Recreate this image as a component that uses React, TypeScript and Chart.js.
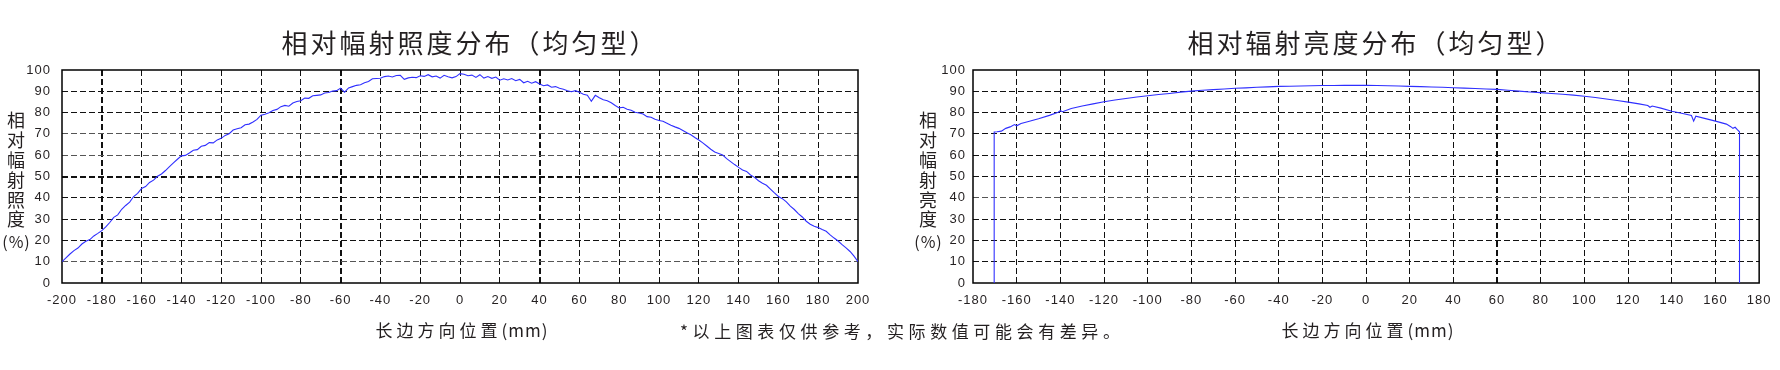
import React, { useEffect, useRef } from 'react';
import { Chart, registerables } from 'chart.js';

Chart.register(...registerables);

// ---------------- data ----------------
const irradianceTitle = '相对幅射照度分布（均匀型）';
const radianceTitle = '相对辐射亮度分布（均匀型）';
const irradianceYTitle = ['相', '对', '幅', '射', '照', '度'];
const radianceYTitle = ['相', '对', '幅', '射', '亮', '度'];
const yUnit = '(%)';
const xAxisTitleMain = '长边方向位置';
const xAxisTitleUnit = '(mm)';
const footnote = '*以上图表仅供参考，实际数值可能会有差异。';

const irradianceXTicks = [-200, -180, -160, -140, -120, -100, -80, -60, -40, -20, 0, 20, 40, 60, 80, 100, 120, 140, 160, 180, 200];
const radianceXTicks = [-180, -160, -140, -120, -100, -80, -60, -40, -20, 0, 20, 40, 60, 80, 100, 120, 140, 160, 180];
const yTicks = [0, 10, 20, 30, 40, 50, 60, 70, 80, 90, 100];

const irradiancePos = [
  -200, -198, -196, -194, -192, -190, -188, -186, -184, -182,
  -180, -178, -176, -174, -172, -170, -168, -166, -164, -162,
  -160, -158, -156, -154, -152, -150, -148, -146, -144, -142,
  -140, -138, -136, -134, -132, -130, -128, -126, -124, -122,
  -120, -118, -116, -114, -112, -110, -108, -106, -104, -102,
  -100, -98, -96, -94, -92, -90, -88, -86, -84, -82,
  -80, -78, -76, -74, -72, -70, -68, -66, -64, -62,
  -60, -58, -56, -54, -52, -50, -48, -46, -44, -42,
  -40, -38, -36, -34, -32, -30, -28, -26, -24, -22,
  -20, -18, -16, -14, -12, -10, -8, -6, -4, -2,
  0, 2, 4, 6, 8, 10, 12, 14, 16, 18,
  20, 22, 24, 26, 28, 30, 32, 34, 36, 38,
  40, 42, 44, 46, 48, 50, 52, 54, 56, 58,
  60, 62, 64, 66, 68, 70, 72, 74, 76, 78,
  80, 82, 84, 86, 88, 90, 92, 94, 96, 98,
  100, 102, 104, 106, 108, 110, 112, 114, 116, 118,
  120, 122, 124, 126, 128, 130, 132, 134, 136, 138,
  140, 142, 144, 146, 148, 150, 152, 154, 156, 158,
  160, 162, 164, 166, 168, 170, 172, 174, 176, 178,
  180, 182, 184, 186, 188, 190, 192, 194, 196, 198,
  200,
];
const irradianceVal = [
  10.0, 11.8, 13.6, 15.2, 16.4, 18.3, 19.6, 20.4, 22.1, 23.3,
  24.6, 26.3, 28.4, 30.8, 32.0, 34.6, 36.4, 38.0, 40.6, 42.1,
  44.4, 45.3, 47.2, 48.3, 50.1, 51.2, 52.8, 54.6, 56.4, 58.1,
  59.7, 59.9, 61.0, 62.3, 62.6, 64.2, 64.6, 65.9, 65.8, 67.2,
  67.9, 69.3, 70.1, 71.8, 72.4, 72.9, 74.3, 74.6, 75.6, 76.8,
  78.8, 79.2, 79.9, 81.0, 81.5, 82.8, 83.4, 83.0, 84.5, 85.2,
  85.6, 86.8, 86.7, 87.9, 88.1, 88.3, 89.2, 89.4, 90.1, 90.3,
  91.5, 89.6, 91.6, 92.2, 92.8, 93.1, 94.0, 94.6, 95.9, 96.0,
  96.1, 96.9, 97.2, 96.7, 97.4, 97.5, 95.6, 96.3, 96.6, 96.4,
  97.3, 97.0, 97.8, 96.8, 97.2, 96.2, 97.5, 96.8, 96.3, 96.9,
  98.3, 98.0, 97.3, 97.6, 96.5, 97.8, 96.2, 96.9, 96.1, 96.7,
  95.2, 95.9, 95.3, 96.0, 95.0, 95.6, 94.0, 94.7, 93.8, 94.5,
  93.4, 92.6, 93.0, 91.9, 92.2, 91.4, 91.0, 90.3, 89.8, 90.3,
  89.6, 88.6, 88.2, 85.3, 88.1, 87.0, 86.0, 85.6, 84.6, 83.3,
  82.2, 82.5, 81.6, 81.1, 80.2, 79.8, 79.3, 78.1, 77.8, 76.9,
  76.3, 75.9, 75.0, 74.1, 73.3, 72.6, 71.6, 70.5, 69.6, 68.3,
  67.1, 65.8, 64.3, 62.8, 61.5, 60.8, 60.1, 58.4, 57.0, 55.6,
  54.3, 53.1, 52.4, 50.7, 49.6, 48.0, 46.8, 45.9, 44.1, 42.3,
  40.6, 39.6, 38.1, 36.1, 34.5, 32.6, 31.0, 29.0, 27.6, 26.6,
  26.0, 25.1, 24.3, 22.6, 21.1, 19.7, 18.0, 16.5, 14.8, 12.6,
  10.0,
];

const radiancePos = [
  -170.3, -170.3, -169, -167, -165, -163, -161, -160, -158, -155,
  -150, -145, -141, -140, -139, -135, -130, -125, -120, -115,
  -110, -105, -100, -95, -90, -85, -80, -75, -70, -65,
  -60, -55, -50, -45, -40, -35, -30, -25, -20, -15,
  -10, -5, 0, 5, 10, 15, 20, 25, 30, 35,
  40, 45, 50, 55, 60, 65, 70, 75, 80, 85,
  90, 95, 100, 105, 110, 115, 120, 125, 129, 130,
  131, 135, 140, 145, 149, 150, 151, 155, 160, 165,
  167, 168, 169, 170, 171, 171,
];
const radianceVal = [
  0, 70.9, 71.0, 71.3, 72.6, 73.3, 74.4, 73.8, 74.9, 75.7,
  77.1, 78.7, 80.2, 80.9, 80.4, 81.9, 83.1, 84.1, 85.1, 85.9,
  86.6, 87.3, 87.9, 88.5, 89.0, 89.6, 90.1, 90.5, 90.8, 91.1,
  91.4, 91.6, 91.9, 92.1, 92.3, 92.4, 92.5, 92.6, 92.7, 92.7,
  92.8, 92.8, 92.8, 92.7, 92.6, 92.5, 92.3, 92.2, 92.0, 91.9,
  91.7, 91.5, 91.3, 91.1, 90.9, 90.5, 90.1, 89.7, 89.4, 89.0,
  88.6, 88.2, 87.7, 87.1, 86.4, 85.7, 84.9, 84.1, 83.3, 82.5,
  83.1, 82.1, 80.6, 79.6, 78.6, 76.0, 78.3, 77.3, 76.0, 74.6,
  73.4, 72.6, 73.1, 72.0, 71.0, 0,
];

// ---------------- styling / layout ----------------
const TEXT = '#231f20';
const CURVE = '#2f2fff';
const CJK = '"Noto Sans CJK SC", "Noto Sans CJK JP", sans-serif';
const NUM = '"Liberation Sans", Arial, sans-serif';

type Panel = {
  pos: number[];
  val: number[];
  xTicks: number[];
  title: string;
  yTitle: string[];
  left: number;
  width: number;
  areaLeft: number;
  areaRight: number;
  yTitleX: number;
  yTickPad: number;
  boldX: number[];
  boldY: number[];
  grayY: number[];
};

const decorPlugin = {
  id: 'decor',
  beforeDraw(chart: any) {
    chart.ctx.letterSpacing = '1px';
  },
  beforeDatasetsDraw(chart: any) {
    const { ctx, chartArea: a } = chart;
    ctx.save();
    ctx.setLineDash([]);
    ctx.strokeStyle = '#000';
    ctx.lineWidth = 1.5;
    ctx.strokeRect(a.left, a.top, a.right - a.left, a.bottom - a.top);
    ctx.restore();
  },
  afterDraw(chart: any, _args: any, opts: any) {
    const { ctx, chartArea: a } = chart;
    const cx = (a.left + a.right) / 2;
    ctx.save();
    ctx.fillStyle = TEXT;
    ctx.textBaseline = 'middle';

    // chart title
    ctx.textAlign = 'center';
    ctx.font = `26px ${CJK}`;
    ctx.letterSpacing = '3px';
    ctx.fillText(opts.title, cx + 10, 43);

    // x axis title: main part + compact unit
    ctx.textAlign = 'left';
    ctx.font = `17px ${CJK}`;
    ctx.letterSpacing = '4px';
    const w1 = ctx.measureText(xAxisTitleMain).width;
    ctx.letterSpacing = '1px';
    const w2 = ctx.measureText(xAxisTitleUnit).width;
    const startX = cx + 2 - (w1 + w2) / 2;
    ctx.letterSpacing = '4px';
    ctx.fillText(xAxisTitleMain, startX, 331);
    ctx.letterSpacing = '1px';
    ctx.fillText(xAxisTitleUnit, startX + w1, 331);

    // y axis title (stacked characters)
    ctx.textAlign = 'center';
    ctx.font = `18px ${CJK}`;
    ctx.letterSpacing = '0px';
    opts.yTitle.forEach((ch: string, i: number) => {
      ctx.fillText(ch, opts.yTitleX, 120.5 + i * 19.8);
    });
    ctx.font = `16px ${CJK}`;
    ctx.letterSpacing = '1px';
    ctx.fillText(yUnit, opts.yTitleX + 0.5, 241.5);
    ctx.restore();
  },
};

function makeConfig(p: Panel): any {
  const xMin = p.xTicks[0];
  const xMax = p.xTicks[p.xTicks.length - 1];
  const data = p.pos.map((x, i) => ({ x, y: p.val[i] }));
  return {
    type: 'line',
    data: {
      datasets: [
        {
          data,
          borderColor: CURVE,
          borderWidth: 1.1,
          pointRadius: 0,
          tension: 0,
          fill: false,
        },
      ],
    },
    options: {
      animation: false,
      responsive: false,
      events: [],
      layout: {
        padding: { left: 0, right: p.width - p.areaRight, top: 70, bottom: 57 },
      },
      plugins: {
        legend: { display: false },
        tooltip: { enabled: false },
        title: { display: false },
        decor: { title: p.title, yTitle: p.yTitle, yTitleX: p.yTitleX },
      },
      scales: {
        x: {
          type: 'linear',
          min: xMin,
          max: xMax,
          afterBuildTicks: (s: any) => {
            s.ticks = p.xTicks.map((v) => ({ value: v }));
          },
          afterFit: (s: any) => {
            s.height = 30;
          },
          ticks: {
            autoSkip: false,
            maxRotation: 0,
            minRotation: 0,
            padding: 10,
            color: TEXT,
            font: { family: NUM, size: 13 },
            callback: (v: number) => String(v),
          },
          grid: {
            drawTicks: false,
            color: (c: any) => {
              const v = c.tick ? c.tick.value : null;
              if (v === xMin || v === xMax) return 'rgba(0,0,0,0)';
              return '#111';
            },
            lineWidth: (c: any) => (c.tick && p.boldX.includes(c.tick.value) ? 2 : 1),
          },
          border: { display: false, dash: [6, 3] },
        },
        y: {
          type: 'linear',
          min: 0,
          max: 100,
          afterBuildTicks: (s: any) => {
            s.ticks = yTicks.map((v) => ({ value: v }));
          },
          afterFit: (s: any) => {
            s.width = p.areaLeft;
          },
          ticks: {
            autoSkip: false,
            padding: p.yTickPad,
            color: TEXT,
            font: { family: NUM, size: 13 },
            callback: (v: number) => String(v),
          },
          grid: {
            drawTicks: false,
            color: (c: any) => {
              const v = c.tick ? c.tick.value : null;
              if (v === 0 || v === 100) return 'rgba(0,0,0,0)';
              if (p.grayY.includes(v)) return '#555';
              return '#111';
            },
            lineWidth: (c: any) => (c.tick && p.boldY.includes(c.tick.value) ? 2 : 1),
          },
          border: { display: false, dash: [6, 3] },
        },
      },
    },
    plugins: [decorPlugin],
  };
}

function ChartPanel({ panel }: { panel: Panel }) {
  const ref = useRef<HTMLCanvasElement | null>(null);
  useEffect(() => {
    if (!ref.current) return;
    const chart = new Chart(ref.current, makeConfig(panel));
    return () => chart.destroy();
  }, [panel]);
  return (
    <canvas
      ref={ref}
      width={panel.width}
      height={370}
      style={{ position: 'absolute', left: panel.left, top: 0, width: panel.width, height: 370 }}
    />
  );
}

const leftPanel: Panel = {
  pos: irradiancePos,
  val: irradianceVal,
  xTicks: irradianceXTicks,
  title: irradianceTitle,
  yTitle: irradianceYTitle,
  left: 0,
  width: 880,
  areaLeft: 62,
  areaRight: 858,
  yTitleX: 16,
  yTickPad: 11,
  boldX: [-180, -60, 40],
  boldY: [50],
  grayY: [60, 70, 10],
};

const rightPanel: Panel = {
  pos: radiancePos,
  val: radianceVal,
  xTicks: radianceXTicks,
  title: radianceTitle,
  yTitle: radianceYTitle,
  left: 880,
  width: 900,
  areaLeft: 93,
  areaRight: 886,
  yTitleX: 48,
  yTickPad: 7,
  boldX: [60],
  boldY: [],
  grayY: [40],
};

export default function App() {
  return (
    <div style={{ position: 'absolute', left: 0, top: 0, width: 1780, height: 370, background: '#fff', overflow: 'hidden' }}>
      <ChartPanel panel={leftPanel} />
      <ChartPanel panel={rightPanel} />
      <div
        style={{
          position: 'absolute',
          left: 680,
          top: 320,
          height: 22,
          lineHeight: '22px',
          fontFamily: CJK,
          fontSize: 17,
          letterSpacing: '4.6px',
          color: TEXT,
          whiteSpace: 'nowrap',
        }}
      >
        {footnote}
      </div>
    </div>
  );
}
